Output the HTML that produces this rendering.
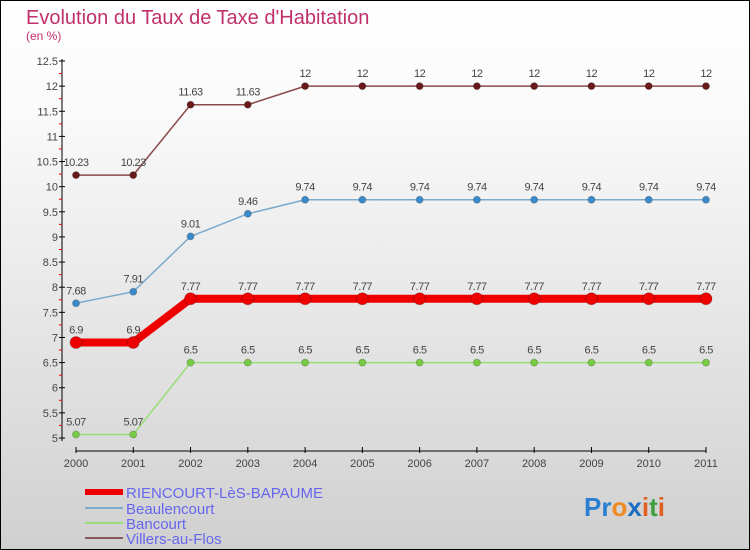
<!DOCTYPE html>
<html><head><meta charset="utf-8"><style>
body{margin:0}
#c{width:750px;height:550px;position:relative;box-sizing:border-box;border:1px solid #000;background:linear-gradient(#fff,#fafafa 20%,#d0d0d0);font-family:"Liberation Sans",sans-serif;overflow:hidden}
</style></head><body>
<div id="c">
<svg id="s" width="750" height="550" style="position:absolute;left:-1px;top:-1px">
<text x="26" y="24" font-size="20" fill="#c0306a">Evolution du Taux de Taxe d'Habitation</text>
<text x="26" y="40" font-size="12" fill="#c0306a">(en %)</text>
<g id="ax"></g><g id="ser"></g>
<g>
<line x1="85" y1="492" x2="123" y2="492" stroke="#e00" stroke-width="6"/>
<text x="126" y="498" font-size="15" fill="#6666ee">RIENCOURT-LèS-BAPAUME</text>
<line x1="85" y1="508" x2="123" y2="508" stroke="#7aaacc" stroke-width="2"/>
<text x="126" y="514" font-size="15" fill="#6666ee">Beaulencourt</text>
<line x1="85" y1="523" x2="123" y2="523" stroke="#99dd77" stroke-width="2"/>
<text x="126" y="529" font-size="15" fill="#6666ee">Bancourt</text>
<line x1="85" y1="538" x2="123" y2="538" stroke="#8a5a5a" stroke-width="2"/>
<text x="126" y="544" font-size="15" fill="#6666ee">Villers-au-Flos</text>
</g>
<text x="584" y="516" font-size="26" font-weight="bold"><tspan fill="#2a7fd0">Pr</tspan><tspan fill="#f08a20">o</tspan><tspan fill="#1a6fc0">x</tspan><tspan fill="#e06020">i</tspan><tspan fill="#40a040">t</tspan><tspan fill="#e06020">i</tspan></text>
</svg>
</div>
<script>
const years=[2000,2001,2002,2003,2004,2005,2006,2007,2008,2009,2010,2011];
const yTicks=[5,5.5,6,6.5,7,7.5,8,8.5,9,9.5,10,10.5,11,11.5,12,12.5];
const riencourt=[6.9,6.9,7.77,7.77,7.77,7.77,7.77,7.77,7.77,7.77,7.77,7.77];
const beaulencourt=[7.68,7.91,9.01,9.46,9.74,9.74,9.74,9.74,9.74,9.74,9.74,9.74];
const bancourt=[5.07,5.07,6.5,6.5,6.5,6.5,6.5,6.5,6.5,6.5,6.5,6.5];
const villers=[10.23,10.23,11.63,11.63,12,12,12,12,12,12,12,12];
const NS='http://www.w3.org/2000/svg';
const X=i=>76+i*(630/11);
const Y=v=>438-(v-5)*(377/7.5);
function mk(t,a,p){const e=document.createElementNS(NS,t);for(const k in a)e.setAttribute(k,a[k]);p.appendChild(e);return e;}
const ax=document.getElementById('ax');
mk('line',{x1:62,y1:59,x2:62,y2:441,stroke:'#000'},ax);
mk('line',{x1:76,y1:451,x2:706,y2:451,stroke:'#000'},ax);
yTicks.forEach((v,i)=>{
 mk('line',{x1:59,y1:Y(v),x2:65,y2:Y(v),stroke:'#000'},ax);
 if(i<yTicks.length-1)mk('line',{x1:59,y1:Y(v+0.25),x2:62,y2:Y(v+0.25),stroke:'#e00'},ax);
 const t=mk('text',{x:58,y:Y(v)+4,'font-size':11,fill:'#444','text-anchor':'end'},ax);t.textContent=v;
 
 
});
years.forEach((y,i)=>{
 mk('line',{x1:X(i),y1:447,x2:X(i),y2:453,stroke:'#000'},ax);
 const t=mk('text',{x:X(i),y:467,'font-size':11,fill:'#444','text-anchor':'middle'},ax);t.textContent=y;
 
 
});
const ser=document.getElementById('ser');
function draw(vals,color,w,r,dot,name){
 const g=mk('g',{},ser);
 
 
 mk('polyline',{points:vals.map((v,i)=>X(i)+','+Y(v)).join(' '),fill:'none',stroke:color,'stroke-width':w,'stroke-linejoin':'round'},g);
 vals.forEach((v,i)=>{
  const c=mk('circle',{cx:X(i),cy:Y(v),r:r,fill:dot,stroke:'#0003'},g);
  
  
  const t=mk('text',{x:X(i),y:Y(v)-9,'font-size':11,fill:'#444','text-anchor':'middle','letter-spacing':'-0.5'},g);t.textContent=v;
  
  
 });
}
draw(villers,'#8a4a4a',1.5,3.5,'#6a1a1a','series-villers');
draw(beaulencourt,'#7aaacc',1.5,3.5,'#3a8acc','series-beaulencourt');
draw(bancourt,'#99dd77',1.5,3.5,'#77cc44','series-bancourt');
draw(riencourt,'#ee0000',8,6,'#ee0000','series-riencourt');
</script>
</body></html>
